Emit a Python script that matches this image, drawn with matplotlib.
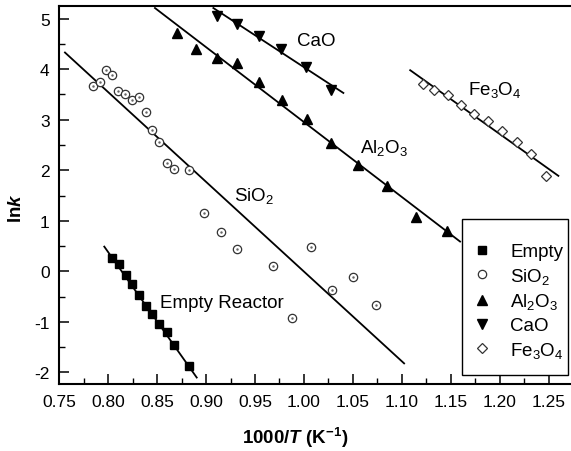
import matplotlib
matplotlib.use("Agg")
import matplotlib.pyplot as plt
from matplotlib.ticker import MultipleLocator
from matplotlib.patches import Rectangle

plt.rcParams['font.family'] = ['Liberation Sans', 'DejaVu Sans']
plt.rcParams['mathtext.fontset'] = 'custom'
plt.rcParams['mathtext.rm'] = 'Liberation Sans'
plt.rcParams['mathtext.it'] = 'Liberation Sans:italic'
plt.rcParams['mathtext.bf'] = 'Liberation Sans:bold'
plt.rcParams['mathtext.bfit'] = 'Liberation Sans:bold:italic'
plt.rcParams['axes.unicode_minus'] = False

# ---- data ----
empty_x = [0.8035, 0.811, 0.8178, 0.824, 0.8314, 0.8382, 0.845, 0.852, 0.8597, 0.8675, 0.8828]
empty_y = [0.26, 0.15, -0.07, -0.24, -0.47, -0.69, -0.85, -1.05, -1.19, -1.46, -1.88]
empty_fit_x = [0.7959, 0.8904]
empty_fit_y = [0.49, -2.10]

sio2_x = [0.7847, 0.7915, 0.7976, 0.804, 0.8102, 0.817, 0.8239, 0.831, 0.8382, 0.845,
          0.8518, 0.8597, 0.8672, 0.8825, 0.898, 0.915, 0.932, 0.968, 0.9875, 1.0073,
          1.0284, 1.05, 1.0734]
sio2_y = [3.675, 3.74, 3.99, 3.89, 3.56, 3.51, 3.40, 3.44, 3.16, 2.79,
          2.55, 2.15, 2.02, 2.00, 1.15, 0.776, 0.447, 0.11, -0.93, 0.48,
          -0.37, -0.11, -0.67]
sio2_fit_x = [0.7557, 1.1024]
sio2_fit_y = [4.33, -1.82]

al2o3_x = [0.8706, 0.8897, 0.9108, 0.932, 0.954, 0.978, 1.003, 1.028, 1.0556, 1.085, 1.1146, 1.146]
al2o3_y = [4.72, 4.40, 4.22, 4.13, 3.74, 3.40, 3.02, 2.53, 2.10, 1.69, 1.08, 0.79]
al2o3_fit_x = [0.8477, 1.1596]
al2o3_fit_y = [5.21, 0.59]

cao_x = [0.9108, 0.932, 0.954, 0.977, 1.002, 1.028]
cao_y = [5.05, 4.90, 4.66, 4.40, 4.04, 3.59]
cao_fit_x = [0.9074, 1.0403]
cao_fit_y = [5.21, 3.53]

fe3o4_x = [1.1215, 1.133, 1.147, 1.1606, 1.174, 1.1886, 1.202, 1.2176, 1.232, 1.2473]
fe3o4_y = [3.71, 3.59, 3.48, 3.30, 3.12, 2.97, 2.77, 2.56, 2.33, 1.89]
fe3o4_fit_x = [1.1086, 1.2601]
fe3o4_fit_y = [3.98, 1.89]

x_ticks = [0.75, 0.80, 0.85, 0.90, 0.95, 1.00, 1.05, 1.10, 1.15, 1.20, 1.25]
y_ticks = [-2, -1, 0, 1, 2, 3, 4, 5]

W, H = 571, 452
fig = plt.figure(figsize=(W / 100, H / 100), dpi=100)
ax = fig.add_axes([0.104, 0.148, 0.896, 0.8365])

lw = 1.3
ax.plot(empty_fit_x, empty_fit_y, color='black', lw=lw)
ax.plot(sio2_fit_x, sio2_fit_y, color='black', lw=lw)
ax.plot(al2o3_fit_x, al2o3_fit_y, color='black', lw=lw)
ax.plot(cao_fit_x, cao_fit_y, color='black', lw=lw)
ax.plot(fe3o4_fit_x, fe3o4_fit_y, color='black', lw=lw)

ax.plot(empty_x, empty_y, 's', color='black', ms=5.2, label='Empty', zorder=3)
ax.plot(sio2_x, sio2_y, 'o', mfc='white', mec='#333333', mew=0.9, ms=6, label='SiO$_2$', zorder=3)
ax.plot(sio2_x, sio2_y, '.', color='#666666', ms=1.5, zorder=4)
ax.plot(al2o3_x, al2o3_y, '^', color='black', ms=6.5, label='Al$_2$O$_3$', zorder=3)
ax.plot(cao_x, cao_y, 'v', color='black', ms=6.5, label='CaO', zorder=3)
ax.plot(fe3o4_x, fe3o4_y, 'D', mfc='white', mec='#333333', mew=0.9, ms=5, label='Fe$_3$O$_4$', zorder=3)

ax.set_xlim(0.75, 1.273)
ax.set_ylim(-2.23, 5.25)
ax.set_xticks(x_ticks)
ax.set_xticklabels(['%.2f' % v for v in x_ticks])
ax.set_yticks(y_ticks)
ax.xaxis.set_minor_locator(MultipleLocator(0.025))
ax.yaxis.set_minor_locator(MultipleLocator(0.5))
ax.tick_params(which='major', direction='in', length=7, width=1.1, labelsize=12.5,
               top=False, right=False, pad=7)
ax.tick_params(which='minor', direction='in', length=4, width=1.0, top=False, right=False)
for s in ['left', 'bottom', 'top']:
    ax.spines[s].set_linewidth(1.5)
ax.spines['right'].set_visible(False)

ax.set_xlabel(r'$\mathbf{1000/}\boldsymbol{T}\ \mathbf{(K^{-1})}$', fontsize=13.5, va='center')
ax.set_ylabel(r'$\mathbf{ln}\boldsymbol{k}$', fontsize=13.5, va='center')
ax.xaxis.set_label_coords(0.46, -0.14)
ax.yaxis.set_label_coords(-0.083, 0.468)

fs = 13.5
ax.text(0.993, 4.56, 'CaO', fontsize=fs, ha='left', va='center')
ax.text(1.168, 3.61, 'Fe$_3$O$_4$', fontsize=fs, ha='left', va='center')
ax.text(1.057, 2.46, 'Al$_2$O$_3$', fontsize=fs, ha='left', va='center')
ax.text(0.928, 1.51, 'SiO$_2$', fontsize=fs, ha='left', va='center')
ax.text(0.853, -0.62, 'Empty Reactor', fontsize=fs, ha='left', va='center')

# legend box (frame drawn separately in figure pixels)
box_l, box_t, box_r, box_b = 461.7, 220.0, 568.3, 376.0
ax.add_patch(Rectangle((box_l / W, 1 - box_b / H), (box_r - box_l) / W, (box_b - box_t) / H,
                       transform=fig.transFigure, facecolor='white', edgecolor='black',
                       lw=1.0, zorder=5, clip_on=False))
leg = ax.legend(loc='upper left', bbox_to_anchor=(470.7 / W, 1 - 244.0 / H),
                bbox_transform=fig.transFigure, frameon=False, fontsize=fs,
                handlelength=1.2, handletextpad=0.9, labelspacing=0.3,
                borderpad=0, borderaxespad=0)
leg.set_zorder(6)

fig.savefig('out.png', dpi=100)
